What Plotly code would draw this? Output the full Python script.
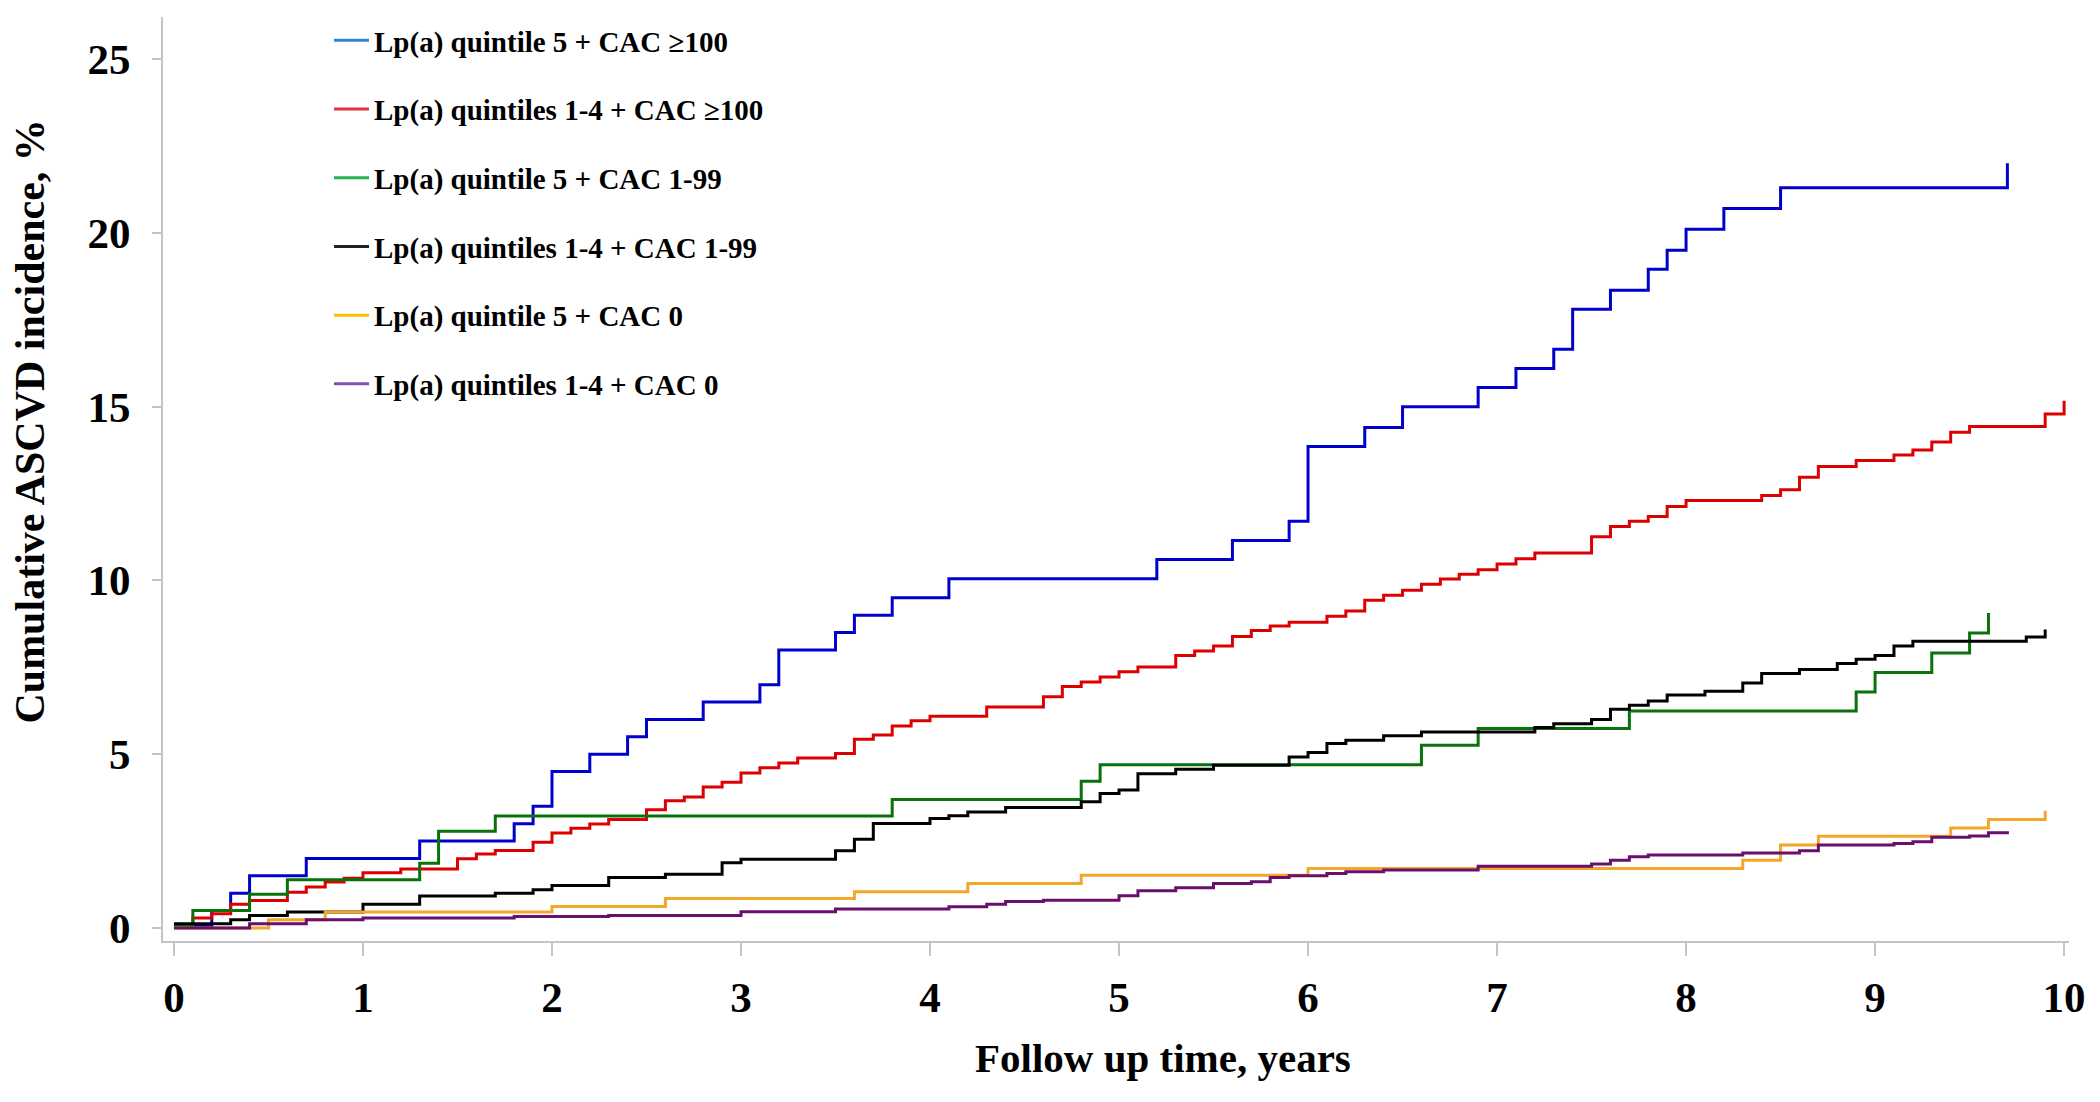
import plotly.graph_objects as go

# ---------------- data ----------------
series_names = [
    "Lp(a) quintile 5 + CAC ≥100",
    "Lp(a) quintiles 1-4 + CAC ≥100",
    "Lp(a) quintile 5 + CAC 1-99",
    "Lp(a) quintiles 1-4 + CAC 1-99",
    "Lp(a) quintile 5 + CAC 0",
    "Lp(a) quintiles 1-4 + CAC 0",
]

blue_x = [0, 0.2, 0.3, 0.4, 0.7, 1.3, 1.8, 1.9, 2.0, 2.2, 2.4, 2.5, 2.8, 3.1, 3.2, 3.5, 3.6, 3.8, 4.1,
          5.2, 5.6, 5.9, 6.0, 6.3, 6.5, 6.9, 7.1, 7.3, 7.4, 7.6, 7.8, 7.9, 8.0, 8.2, 8.5, 9.7]
blue_y = [0.05, 0.5, 1.0, 1.5, 2.0, 2.5, 3.0, 3.5, 4.5, 5.0, 5.5, 6.0, 6.5, 7.0, 8.0, 8.5, 9.0, 9.5, 10.05,
          10.6, 11.15, 11.7, 13.85, 14.4, 15.0, 15.55, 16.1, 16.65, 17.8, 18.35, 18.95, 19.5, 20.1, 20.7, 21.3, 22.0]

red_x = [0, 0.1, 0.2, 0.3, 0.4, 0.6, 0.7, 0.8, 0.9, 1.0, 1.2, 1.5, 1.6, 1.7, 1.9, 2.0, 2.1, 2.2, 2.3, 2.5,
         2.6, 2.7, 2.8, 2.9, 3.0, 3.1, 3.2, 3.3, 3.5, 3.6, 3.7, 3.8, 3.9, 4.0, 4.3, 4.6, 4.7, 4.8, 4.9, 5.0,
         5.1, 5.3, 5.4, 5.5, 5.6, 5.7, 5.8, 5.9, 6.1, 6.2, 6.3, 6.4, 6.5, 6.6, 6.7, 6.8, 6.9, 7.0, 7.1, 7.2,
         7.5, 7.6, 7.7, 7.8, 7.9, 8.0, 8.4, 8.5, 8.6, 8.7, 8.9, 9.1, 9.2, 9.3, 9.4, 9.5, 9.9, 10.0]
red_y = [0.05, 0.29, 0.41, 0.68, 0.79, 1.03, 1.18, 1.32, 1.43, 1.59, 1.70, 1.99, 2.13, 2.23, 2.47, 2.73, 2.87, 2.99, 3.12, 3.40,
         3.66, 3.77, 4.06, 4.19, 4.46, 4.61, 4.75, 4.89, 5.02, 5.43, 5.55, 5.81, 5.96, 6.09, 6.36, 6.65, 6.95, 7.08, 7.22, 7.37,
         7.51, 7.84, 7.97, 8.11, 8.39, 8.56, 8.69, 8.80, 8.97, 9.12, 9.43, 9.57, 9.72, 9.89, 10.04, 10.18, 10.31, 10.47, 10.62, 10.79,
         11.26, 11.55, 11.70, 11.84, 12.13, 12.30, 12.44, 12.61, 12.97, 13.28, 13.45, 13.61, 13.75, 13.98, 14.26, 14.43, 14.79, 15.17]

green_x = [0, 0.1, 0.4, 0.6, 1.3, 1.4, 1.7, 3.8, 4.8, 4.9, 6.6, 6.9, 7.7, 8.9, 9.0, 9.3, 9.5, 9.6]
green_y = [0.05, 0.5, 0.97, 1.39, 1.86, 2.78, 3.22, 3.70, 4.22, 4.70, 5.26, 5.74, 6.24, 6.79, 7.35, 7.91, 8.49, 9.06]

black_x = [0, 0.3, 0.4, 0.6, 1.0, 1.3, 1.7, 1.9, 2.0, 2.3, 2.6, 2.9, 3.0, 3.5, 3.6, 3.7, 4.0, 4.1, 4.2, 4.4,
           4.8, 4.9, 5.0, 5.1, 5.3, 5.5, 5.9, 6.0, 6.1, 6.2, 6.4, 6.6, 7.2, 7.3, 7.5, 7.6, 7.7, 7.8, 7.9, 8.1,
           8.3, 8.4, 8.6, 8.8, 8.9, 9.0, 9.1, 9.2, 9.8, 9.9]
black_y = [0.12, 0.24, 0.36, 0.46, 0.68, 0.92, 1.00, 1.10, 1.22, 1.45, 1.55, 1.88, 1.98, 2.22, 2.55, 3.01, 3.15, 3.23, 3.34, 3.47,
           3.63, 3.87, 3.97, 4.44, 4.57, 4.68, 4.92, 5.05, 5.31, 5.40, 5.53, 5.64, 5.77, 5.88, 6.00, 6.29, 6.41, 6.53, 6.70, 6.81,
           7.05, 7.32, 7.44, 7.61, 7.73, 7.84, 8.11, 8.25, 8.37, 8.59]

orange_x = [0, 0.5, 0.8, 2.0, 2.6, 3.6, 4.2, 4.8, 6.0, 8.3, 8.5, 8.7, 9.4, 9.6, 9.9]
orange_y = [0.0, 0.24, 0.46, 0.62, 0.85, 1.04, 1.28, 1.52, 1.71, 1.95, 2.39, 2.64, 2.88, 3.12, 3.37]

purple_x = [0, 0.4, 0.7, 1.0, 1.8, 2.3, 3.0, 3.5, 4.1, 4.3, 4.4, 4.6, 5.0, 5.1, 5.3, 5.5, 5.7, 5.8, 5.9, 6.1,
            6.2, 6.4, 6.9, 7.5, 7.6, 7.7, 7.8, 8.3, 8.6, 8.7, 9.1, 9.2, 9.3, 9.5, 9.6, 9.7]
purple_y = [0.0, 0.12, 0.24, 0.29, 0.33, 0.36, 0.47, 0.55, 0.61, 0.68, 0.76, 0.80, 0.93, 1.07, 1.16, 1.28, 1.33, 1.45, 1.50, 1.57,
            1.62, 1.67, 1.78, 1.84, 1.95, 2.05, 2.10, 2.16, 2.22, 2.39, 2.43, 2.48, 2.61, 2.65, 2.74, 2.78]

x_ticks = [0, 1, 2, 3, 4, 5, 6, 7, 8, 9, 10]
y_ticks = [0, 5, 10, 15, 20, 25]
x_title = "Follow up time, years"
y_title = "Cumulative ASCVD incidence, %"

# ---------------- styling ----------------
line_colors = ["#0000cc", "#dd0000", "#0a720a", "#000000", "#f2a62a", "#6a0f6e"]
legend_colors = ["#2f86d6", "#e0353a", "#27b04f", "#222222", "#ffc000", "#8052b8"]
FONT = "Liberation Serif, Times New Roman, serif"
AXIS_GREY = "#c4c4c4"

xs = [blue_x, red_x, green_x, black_x, orange_x, purple_x]
ys = [blue_y, red_y, green_y, black_y, orange_y, purple_y]

fig = go.Figure()
for i in range(6):
    fig.add_trace(go.Scatter(
        x=xs[i], y=ys[i], mode="lines", line=dict(color=line_colors[i], width=3, shape="hv"),
        name=series_names[i], legendgroup=f"g{i}", showlegend=False,
    ))
for i in range(6):
    fig.add_trace(go.Scatter(
        x=[None], y=[None], mode="lines", line=dict(color=legend_colors[i], width=3),
        name=series_names[i], legendgroup=f"g{i}", showlegend=True,
    ))

# page has an 8px body margin: plot area targets are in page pixels
OFF = 8
W, H = 2092, 1094
L, T = 163 - OFF, 16 - OFF
pw, ph = 1906, 925
R = W - L - pw
B = H - T - ph


def px_x(p):
    return (p - 163) / pw


def px_y(p):
    return (941 - p) / ph


fig.update_layout(
    width=W, height=H,
    margin=dict(l=L, r=R, t=T, b=B),
    paper_bgcolor="white", plot_bgcolor="white",
    font=dict(family=FONT, color="black"),
    showlegend=True,
    legend=dict(
        x=px_x(329), y=px_y(15), xanchor="left", yanchor="top",
        font=dict(family=FONT, size=29, color="black", weight="bold"),
        tracegroupgap=28, bgcolor="rgba(0,0,0,0)", borderwidth=0,
        itemwidth=35,
    ),
    xaxis=dict(
        range=[-0.058, 10.026], tickmode="array", tickvals=x_ticks,
        showgrid=False, zeroline=False, showline=True, linecolor=AXIS_GREY, linewidth=2,
        ticks="outside", ticklen=13, tickwidth=2, tickcolor=AXIS_GREY,
        tickfont=dict(family=FONT, size=43, color="black", weight="bold"),
        ticklabelstandoff=4,
    ),
    yaxis=dict(
        range=[-0.374, 26.21], tickmode="array", tickvals=y_ticks,
        showgrid=False, zeroline=False, showline=True, linecolor=AXIS_GREY, linewidth=2,
        ticks="outside", ticklen=9, tickwidth=2, tickcolor=AXIS_GREY,
        tickfont=dict(family=FONT, size=43, color="black", weight="bold"),
        ticklabelstandoff=13,
    ),
    annotations=[
        dict(text=x_title, xref="paper", yref="paper", x=px_x(1163), y=px_y(1058),
             xanchor="center", yanchor="middle", showarrow=False,
             font=dict(family=FONT, size=41, color="black", weight="bold")),
        dict(text=y_title, xref="paper", yref="paper", x=px_x(30), y=px_y(421),
             xanchor="center", yanchor="middle", showarrow=False, textangle=-90,
             font=dict(family=FONT, size=42, color="black", weight="bold")),
    ],
)

fig.write_html("out.html")
